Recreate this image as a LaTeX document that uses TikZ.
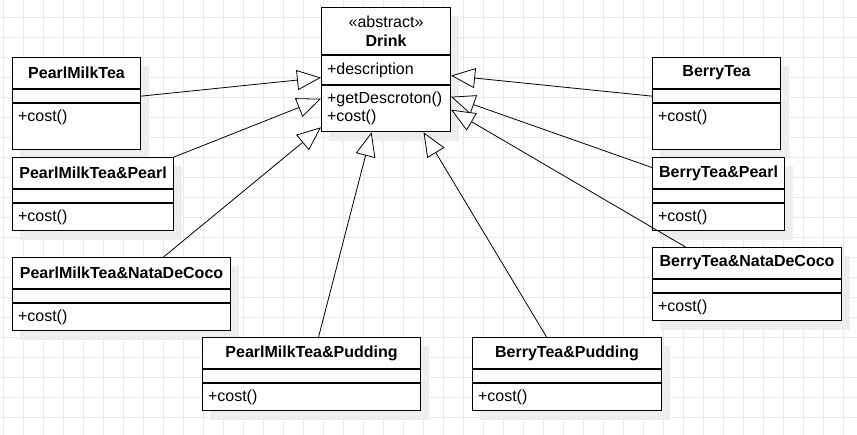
\documentclass[tikz,border=0pt]{standalone}
\usepackage{fontspec}
\setmainfont{Liberation Sans}
\usepackage{tikz}
\usetikzlibrary{positioning,arrows.meta,backgrounds}

\definecolor{gridline}{HTML}{E9E9E9}
\definecolor{shadowgray}{HTML}{EEEEEE}
\newcommand{\classfont}{\fontsize{16pt}{18.5pt}\selectfont}

\tikzset{
  classname/.style={draw=black, line width=1.1pt, fill=white, inner sep=0pt,
    font=\classfont\bfseries, minimum width=#1, minimum height=31pt, anchor=north west},
  classpart/.style={draw=black, line width=1.1pt, fill=white, inner xsep=5.5pt,
    inner ysep=0pt, font=\classfont, text width=\dimexpr#1-11pt\relax, align=left,
    minimum height=13pt},
  classops/.style={classpart=#1, inner ysep=6pt, text height=11.5pt, text depth=3.5pt},
  extends/.style={draw=black, line width=0.8pt, -{Triangle[fill=white, length=24pt, width=20pt]}}
}

\begin{document}
\begin{tikzpicture}[x=1pt, y=-1pt]
  \useasboundingbox (0,0) rectangle (857,435);

  % abstract base class
  \node[classname=129pt, minimum height=47pt, font=\classfont, align=center] (drink) at (321,7) {«abstract»\\[0.5pt]\textbf{Drink}};
  \node[classpart=129pt, minimum height=29pt, below=0pt of drink] (drink-attr) {+description};
  \node[classops=129pt, text depth=22.5pt, below=0pt of drink-attr] (drink-ops) {+getDescroton()\\+cost()};

  % pearl milk tea side
  \node[classname=128pt] (pmt) at (12,57) {PearlMilkTea};
  \node[classpart=128pt, below=0pt of pmt] (pmt-attr) {};
  \node[classops=128pt, text depth=22.5pt, below=0pt of pmt-attr] (pmt-ops) {+cost()};

  \node[classname=161pt] (pmtp) at (12,157) {PearlMilkTea\&Pearl};
  \node[classpart=161pt, below=0pt of pmtp] (pmtp-attr) {};
  \node[classops=161pt, below=0pt of pmtp-attr] (pmtp-ops) {+cost()};

  \node[classname=218pt] (pmtn) at (12,257) {PearlMilkTea\&NataDeCoco};
  \node[classpart=218pt, below=0pt of pmtn] (pmtn-attr) {};
  \node[classops=218pt, below=0pt of pmtn-attr] (pmtn-ops) {+cost()};

  \node[classname=218pt] (pmtpd) at (202,337) {PearlMilkTea\&Pudding};
  \node[classpart=218pt, below=0pt of pmtpd] (pmtpd-attr) {};
  \node[classops=218pt, below=0pt of pmtpd-attr] (pmtpd-ops) {+cost()};

  % berry tea side
  \node[classname=189pt] (btpd) at (472,337) {BerryTea\&Pudding};
  \node[classpart=189pt, below=0pt of btpd] (btpd-attr) {};
  \node[classops=189pt, below=0pt of btpd-attr] (btpd-ops) {+cost()};

  \node[classname=128pt] (bt) at (652,57) {BerryTea};
  \node[classpart=128pt, below=0pt of bt] (bt-attr) {};
  \node[classops=128pt, text depth=22.5pt, below=0pt of bt-attr] (bt-ops) {+cost()};

  \node[classname=132pt] (btp) at (652,157) {BerryTea\&Pearl};
  \node[classpart=132pt, below=0pt of btp] (btp-attr) {};
  \node[classops=132pt, below=0pt of btp-attr] (btp-ops) {+cost()};

  \node[classname=189pt] (btn) at (652,247) {BerryTea\&NataDeCoco};
  \node[classpart=189pt, below=0pt of btn] (btn-attr) {};
  \node[classops=189pt, below=0pt of btn-attr] (btn-ops) {+cost()};

  % grid and shadows
  \begin{scope}[on background layer]
    \foreach \gx in {3,23,...,843} \draw[gridline, line width=0.8pt] (\gx,0) -- (\gx,435);
    \foreach \gy in {17,37,...,417} \draw[gridline, line width=0.8pt] (0,\gy) -- (857,\gy);
    \foreach \c in {drink,pmt,pmtp,pmtn,pmtpd,btpd,bt,btp,btn}
      \fill[shadowgray] ([shift={(8,9)}]\c.north west) rectangle ([shift={(8,9)}]\c-ops.south east);
  \end{scope}

  % generalisations
  \draw[extends] (pmt-attr.east) -- ([yshift=-7.5pt]drink-attr.west);
  \draw[extends] (pmtp.north east) -- ([yshift=10pt]drink-ops.west);
  \draw[extends] ([xshift=42pt]pmtn.north) -- ([yshift=5pt]drink-ops.south west);
  \draw[extends] ([xshift=7pt]pmtpd.north) -- ([xshift=-14.5pt]drink-ops.south);
  \draw[extends] ([xshift=-20.5pt]btpd.north) -- ([xshift=37.5pt]drink-ops.south);
  \draw[extends] (bt-attr.west) -- ([yshift=-5.5pt]drink-attr.east);
  \draw[extends] ([yshift=5.5pt]btp.west) -- ([yshift=12pt]drink-ops.east);
  \draw[extends] ([xshift=-61.5pt]btn.north) -- ([yshift=-1pt]drink-ops.east);
\end{tikzpicture}
\end{document}
